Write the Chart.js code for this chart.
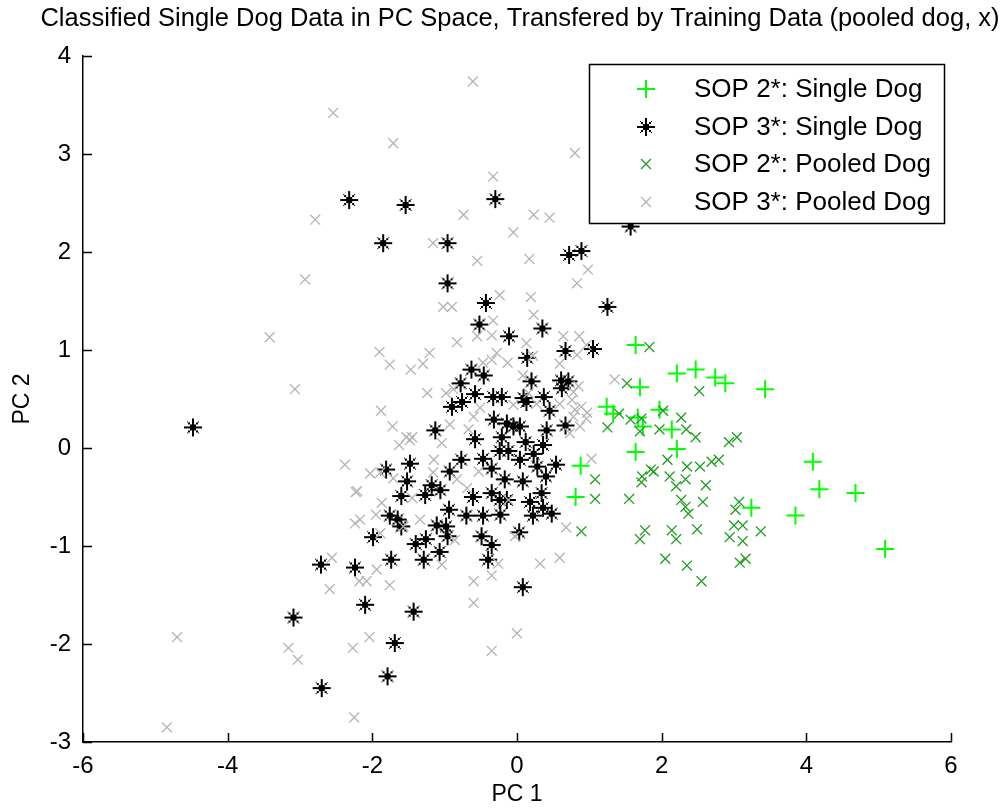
<!DOCTYPE html>
<html>
<head>
<meta charset="utf-8">
<script src="https://cdn.jsdelivr.net/npm/chart.js@4.4.1/dist/chart.umd.min.js"></script>
<style>
html,body{margin:0;padding:0;background:#fff;}
canvas{display:block;}
</style>
</head>
<body>
<canvas id="c" width="1005" height="811"></canvas>
<script>
// ---------- data ----------
const chartTitle = "Classified Single Dog Data in PC Space, Transfered by Training Data (pooled dog, x)";
const xAxisLabel = "PC 1";
const yAxisLabel = "PC 2";
const seriesNames = ["SOP 2*: Single Dog", "SOP 3*: Single Dog", "SOP 2*: Pooled Dog", "SOP 3*: Pooled Dog"];
const xTicks = [-6, -4, -2, 0, 2, 4, 6];
const yTicks = [-3, -2, -1, 0, 1, 2, 3, 4];

const sop2SingleX = [1.64,2.21,2.47,2.74,2.88,3.43,1.70,1.24,1.33,1.67,1.97,1.74,2.14,2.21,1.64,0.88,0.81,4.09,4.18,4.68,3.24,3.85,5.09];
const sop2SingleY = [1.05,0.76,0.80,0.72,0.66,0.60,0.62,0.42,0.35,0.31,0.39,0.22,0.19,-0.01,-0.04,-0.18,-0.50,-0.14,-0.42,-0.46,-0.61,-0.69,-1.03];

const sop3SingleX = [-2.32,-4.48,-2.71,-2.24,-3.09,-2.70,-1.54,-0.30,-1.85,-0.96,1.57,0.72,0.89,1.25,-0.96,-0.43,-0.52,-0.11,0.35,0.67,1.05,0.14,-0.63,-0.46,-0.78,0.20,0.61,0.71,0.62,-0.58,-0.33,-0.21,0.09,0.13,0.37,-0.76,-0.90,0.45,-1.13,-0.32,-0.14,-0.05,0.04,0.67,-0.58,-0.21,0.12,0.36,0.41,-0.24,-0.12,0.04,0.23,0.28,0.54,-0.47,-0.77,-1.48,-1.81,-0.93,-0.35,-0.17,0.08,0.40,-1.52,-1.18,-1.06,-1.27,-1.60,-0.61,-0.35,-0.24,-0.14,0.34,0.18,0.36,0.48,0.22,-0.94,-0.23,-0.47,-0.70,-1.76,-1.65,-1.11,-0.98,-1.60,0.03,-1.99,-0.96,-0.49,-1.40,-1.26,-0.35,-1.07,-1.74,-1.29,-0.40,0.08,-2.10,-1.43,-1.69,-1.79];
const sop3SingleY = [2.53,0.21,-1.19,-1.22,-1.73,-2.45,2.48,2.54,2.09,2.09,2.26,1.97,2.01,1.44,1.68,1.48,1.26,1.14,1.22,0.99,1.01,0.92,0.80,0.74,0.66,0.68,0.69,0.68,0.61,0.55,0.52,0.52,0.51,0.47,0.52,0.47,0.42,0.38,0.18,0.29,0.25,0.22,0.22,0.23,0.09,0.11,0.06,0.03,0.18,-0.03,-0.03,-0.12,-0.06,-0.19,-0.17,-0.11,-0.12,-0.16,-0.22,-0.24,-0.21,-0.32,-0.34,-0.29,-0.34,-0.38,-0.43,-0.48,-0.49,-0.50,-0.46,-0.53,-0.53,-0.46,-0.55,-0.61,-0.67,-0.69,-0.63,-0.68,-0.69,-0.69,-0.69,-0.73,-0.79,-0.80,-0.80,-0.86,-0.91,-0.90,-0.90,-0.98,-0.93,-0.99,-1.06,-1.14,-1.14,-1.14,-1.42,-1.60,-1.67,-1.99,-2.33];

const sop2PooledX = [1.83,1.52,2.52,1.41,1.57,1.72,2.02,2.27,1.25,1.70,1.97,2.34,2.47,2.93,3.04,2.08,2.35,2.53,2.69,2.79,1.85,1.89,1.73,1.72,2.11,2.33,2.20,2.61,1.08,1.08,1.55,2.27,2.33,2.37,2.57,3.02,3.07,0.89,1.70,1.77,2.14,2.20,2.49,2.94,3.00,3.12,3.12,3.37,2.05,2.35,3.08,3.16,2.55];
const sop2PooledY = [1.03,0.66,0.58,0.35,0.29,0.30,0.38,0.31,0.21,0.17,0.19,0.19,0.11,0.06,0.11,-0.12,-0.19,-0.19,-0.14,-0.12,-0.22,-0.24,-0.29,-0.35,-0.29,-0.32,-0.39,-0.38,-0.32,-0.52,-0.52,-0.53,-0.60,-0.67,-0.55,-0.63,-0.55,-0.85,-0.93,-0.84,-0.84,-0.93,-0.83,-0.91,-0.79,-0.79,-0.95,-0.85,-1.13,-1.20,-1.17,-1.13,-1.36];

const sop3PooledX = [-2.54,-2.79,-2.93,-3.42,-3.07,-2.38,-2.23,-2.24,-2.56,-2.59,-2.18,-4.70,-4.84,-3.16,-3.03,-2.27,-2.25,-0.61,-1.71,0.80,-0.33,-0.74,0.23,0.45,-0.05,0.98,0.83,-1.16,-0.55,0.17,-0.24,0.19,-1.02,-0.90,0.23,-0.33,-0.83,-0.55,-0.35,0.13,0.64,0.86,0.96,-1.90,-1.76,-1.47,-1.30,-1.21,-0.28,-0.47,-0.35,-0.13,0.22,0.59,0.83,0.08,-1.24,-0.98,-1.88,-0.88,-0.05,0.16,0.78,0.89,0.78,-1.72,-1.53,-1.45,-1.63,-0.93,-0.60,-0.67,-0.51,0.27,0.59,0.97,0.73,-1.48,-1.04,-2.03,-1.89,-1.15,-1.16,-1.71,-2.21,-1.45,-1.87,-1.95,-2.17,-1.34,-1.57,-0.86,-1.89,-0.83,-0.53,-0.69,-0.12,-0.03,0.68,0.59,0.32,-0.26,-0.35,-0.60,-1.04,-1.94,-2.08,-1.76,-0.60,-2.04,0.00,-0.35,1.35,0.85,0.76,0.80,0.96,0.87,1.03];
const sop3PooledY = [3.42,2.33,1.72,1.13,0.60,-0.17,-0.45,-0.77,-1.12,-1.44,-1.36,-1.93,-2.85,-2.04,-2.16,-2.04,-2.75,3.74,3.11,3.01,2.77,2.38,2.38,2.35,2.20,1.82,1.68,2.09,1.91,1.93,1.56,1.54,1.44,1.44,1.36,1.30,1.08,1.14,1.15,1.07,1.14,1.14,1.05,0.98,0.85,0.80,0.86,0.97,0.97,0.87,0.90,0.87,0.94,0.86,0.95,0.74,0.56,0.56,0.38,0.60,0.44,0.56,0.57,0.42,0.32,0.22,0.11,0.11,0.03,0.24,0.32,0.19,0.41,0.45,0.45,0.36,0.15,0.08,0.05,-0.26,-0.25,-0.12,-0.25,-0.31,-0.44,-0.51,-0.56,-0.68,-0.73,-0.73,-0.80,-0.94,-0.87,-0.32,-0.24,-0.41,-0.53,-0.90,-0.81,-1.12,-1.18,-1.18,-1.30,-1.36,-1.19,-1.24,-1.36,-1.40,-1.58,-1.93,-1.89,-2.07,0.70,0.63,0.49,0.39,0.30,0.22,-0.11];

// ---------- styling ----------
const FONT = "'Liberation Sans', Arial, Helvetica, sans-serif";

function pts(xs, ys) { return xs.map((x, i) => ({ x: x, y: ys[i] })); }

// MATLAB-like '*' marker as a small canvas
function starMarker() {
  const c = document.createElement('canvas');
  c.width = 20; c.height = 20;
  const g = c.getContext('2d');
  g.fillStyle = '#000';
  g.fillRect(9, 1, 2, 18);
  g.fillRect(1, 9, 18, 2);
  g.fillRect(7, 7, 6, 6);
  g.fillRect(5, 5, 2, 2);
  g.fillRect(13, 5, 2, 2);
  g.fillRect(5, 13, 2, 2);
  g.fillRect(13, 13, 2, 2);
  g.fillRect(4, 4, 1, 1);
  g.fillRect(15, 4, 1, 1);
  g.fillRect(4, 15, 1, 1);
  g.fillRect(15, 15, 1, 1);
  return c;
}
const starImg = starMarker();

const datasets = [
  { label: seriesNames[0], data: pts(sop2SingleX, sop2SingleY), pointStyle: 'cross', radius: 9,
    borderColor: '#00ff00', backgroundColor: '#00ff00', borderWidth: 2, order: 3 },
  { label: seriesNames[1], data: pts(sop3SingleX, sop3SingleY), pointStyle: starImg, radius: 10,
    borderColor: '#000000', backgroundColor: '#000000', borderWidth: 1, order: 2 },
  { label: seriesNames[2], data: pts(sop2PooledX, sop2PooledY), pointStyle: 'crossRot', radius: 7,
    borderColor: '#1e9e1e', backgroundColor: '#1e9e1e', borderWidth: 1.3, order: 1 },
  { label: seriesNames[3], data: pts(sop3PooledX, sop3PooledY), pointStyle: 'crossRot', radius: 7,
    borderColor: '#b4b4b4', backgroundColor: '#b4b4b4', borderWidth: 1.3, order: 0 }
];

const annotPlugin = {
  id: 'annot',
  afterDraw(chart) {
    const ctx = chart.ctx;
    const xs = chart.scales.x, ys = chart.scales.y;
    const ca = chart.chartArea;
    ctx.save();
    // inward ticks
    ctx.strokeStyle = '#000';
    ctx.lineWidth = 1.5;
    ctx.beginPath();
    xTicks.forEach(v => {
      const px = Math.round(xs.getPixelForValue(v)) + 0.5;
      ctx.moveTo(px, ca.bottom); ctx.lineTo(px, ca.bottom - 9);
    });
    yTicks.forEach(v => {
      const py = Math.round(ys.getPixelForValue(v)) + 0.5;
      ctx.moveTo(ca.left, py); ctx.lineTo(ca.left + 9, py);
    });
    ctx.stroke();

    // title
    ctx.fillStyle = '#000';
    ctx.font = '25.5px ' + FONT;
    ctx.textAlign = 'center';
    ctx.textBaseline = 'middle';
    ctx.fillText(chartTitle, 520, 19);

    // axis titles
    ctx.font = '23px ' + FONT;
    ctx.fillText(xAxisLabel, (ca.left + ca.right) / 2, 795);
    ctx.save();
    ctx.translate(23, (ca.top + ca.bottom) / 2);
    ctx.rotate(-Math.PI / 2);
    ctx.fillText(yAxisLabel, 0, 0);
    ctx.restore();

    // legend box
    const bx = 589, by = 64, bw = 355, bh = 159;
    ctx.fillStyle = '#fff';
    ctx.fillRect(bx, by, bw, bh);
    ctx.strokeStyle = '#000';
    ctx.lineWidth = 1.5;
    ctx.strokeRect(bx + 0.5, by + 0.5, bw, bh);
    const rows = [89, 127, 164, 202];
    ctx.textAlign = 'left';
    ctx.textBaseline = 'middle';
    chart.data.datasets.forEach((ds, i) => {
      const y = rows[i];
      ctx.save();
      ctx.strokeStyle = ds.borderColor; ctx.fillStyle = ds.backgroundColor; ctx.lineWidth = ds.borderWidth;
      Chart.helpers.drawPoint(ctx, {
        pointStyle: ds.pointStyle, radius: ds.radius, borderWidth: ds.borderWidth, rotation: 0
      }, 646, y);
      ctx.restore();
      ctx.fillStyle = '#000';
      ctx.font = '26px ' + FONT;
      ctx.fillText(ds.label, 694, y + 1);
    });
    ctx.restore();
  }
};

new Chart(document.getElementById('c'), {
  type: 'scatter',
  data: { datasets: datasets },
  options: {
    responsive: false,
    animation: false,
    devicePixelRatio: 1,
    layout: { padding: { top: 56, right: 54, left: 0, bottom: 0 } },
    plugins: { legend: { display: false }, tooltip: { enabled: false }, title: { display: false } },
    elements: { point: { hoverRadius: 7 } },
    scales: {
      x: {
        type: 'linear', min: -6, max: 6,
        afterFit(s) { s.height = 69; },
        afterBuildTicks(s) { s.ticks = xTicks.map(v => ({ value: v })); },
        grid: { display: false, drawTicks: false },
        border: { display: true, color: '#000', width: 1.5 },
        ticks: { color: '#000', padding: 10, font: { family: FONT, size: 24 }, maxRotation: 0 }
      },
      y: {
        type: 'linear', min: -3, max: 4,
        afterFit(s) { s.width = 83; },
        afterBuildTicks(s) { s.ticks = yTicks.map(v => ({ value: v })); },
        grid: { display: false, drawTicks: false },
        border: { display: true, color: '#000', width: 1.5 },
        ticks: { color: '#000', padding: 12, font: { family: FONT, size: 24 } }
      }
    }
  },
  plugins: [annotPlugin]
});
</script>
</body>
</html>
